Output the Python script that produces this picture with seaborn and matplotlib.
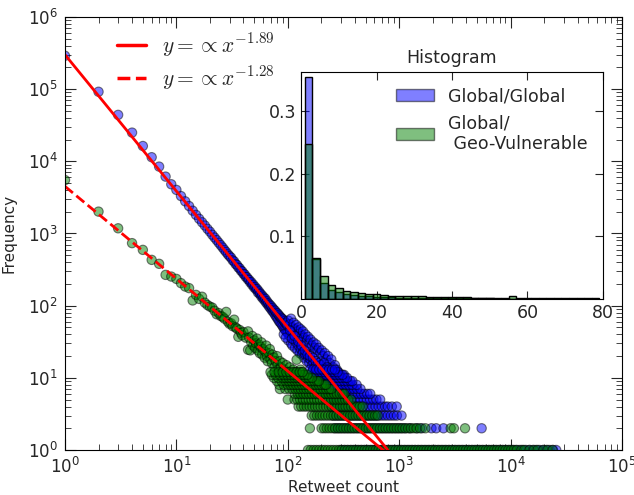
import matplotlib.pyplot as plt
from matplotlib.lines import Line2D
from matplotlib.patches import Patch
import numpy as np
import pandas as pd
import seaborn as sns

# --- scatter data: retweet count -> frequency ---
# Global/Global, points above the integer rows
blue_x = [1, 2, 3, 4, 5, 6, 7, 8, 9, 10, 11, 12, 13, 14, 15, 16, 17, 18, 19, 20,
          21, 22, 23, 24, 25, 26, 27, 28, 29, 30, 31, 32, 33, 34, 35, 36, 37, 38, 39, 40,
          41, 42, 43, 44, 45, 46, 47, 48, 49, 50, 51, 52, 53, 54, 55, 56, 57, 58, 59, 60,
          61, 62, 63, 64, 65, 66, 67, 68, 69, 70, 71, 72, 73, 74, 75, 76, 77, 78, 79, 80,
          81, 82, 83, 84, 85, 86, 87, 88, 89, 90, 91, 92, 93, 94, 95, 96, 97, 98, 99, 100,
          101, 101, 104, 104, 107, 107, 110, 110, 113, 113, 116, 116, 119, 119, 120, 122, 122,
          125, 125, 128, 128, 130, 131, 131, 134, 134, 137, 137, 140, 140, 144, 144, 148, 148,
          150, 152, 152, 156, 156, 160, 160, 165, 165, 170, 170, 170, 175, 175, 180, 180,
          185, 185, 190, 190, 196, 196, 200, 202, 208, 210, 215, 222, 230, 230, 238, 246,
          250, 255, 265, 275, 285, 300, 320,
          92, 96, 105, 109, 115, 124, 133, 142, 150, 158, 168, 178, 188, 198, 212, 226]
blue_y = [2.9e5, 9.2e4, 4.4e4, 2.5e4, 1.63e4, 1.14e4, 8450, 6140, 4810, 4020, 3300, 2790,
          2400, 2070, 1810, 1600, 1430, 1290, 1160, 1060, 960, 880, 810, 745, 690, 640, 592,
          553, 515, 485, 462, 425, 410, 378, 366, 338, 330, 305, 298, 276, 272, 250, 248, 230,
          228, 210, 212, 193, 196, 178, 182, 168, 170, 152, 158, 145, 147, 133, 138, 125, 130,
          118, 124, 110, 115, 104, 108, 97, 103, 92, 98, 86, 93, 82, 88, 77, 85, 72, 80, 68,
          78, 64, 74, 60, 71, 58, 68, 55, 66, 52, 64, 49, 61, 47, 58, 45, 57, 43, 54, 42,
          62, 33, 55, 38, 66, 30, 50, 28, 58, 34, 47, 26, 54, 31, 40, 44, 24,
          50, 28, 41, 22, 35, 47, 25, 38, 21, 44, 23, 36, 19, 40, 21, 33, 17,
          26, 37, 19, 30, 16, 34, 18, 28, 15, 31, 16, 22, 26, 14, 29, 15,
          24, 13, 26, 14, 22, 12, 17, 24, 20, 14, 22, 18, 20, 13, 16, 18,
          12, 14, 15, 13, 12, 11, 11,
          40, 36, 45, 35, 38, 32, 28, 24, 21, 20, 19, 17, 16, 15, 16, 14]
blue_f1 = [300, 322, 345, 370, 397, 425, 456, 489, 524, 562, 602, 646, 692, 742, 796, 853,
           915, 981, 1051, 1127, 1208, 1295, 1389, 1489, 1596, 1711, 1834, 1966, 2108, 2260,
           2423, 2597, 2784, 2985, 3200, 3430, 3677, 3942, 4226, 4530, 4857, 5207, 5582,
           5984, 6415, 6877, 7372, 7903, 8472, 9082, 9736, 10437, 11189, 11995, 12858,
           13784, 14777, 15841, 16981, 18204, 19515, 20920, 22426, 24041, 25700]
blue_f2 = [265, 283, 302, 323, 345, 368, 393, 420, 448, 479, 511, 546, 583, 622, 665, 710,
           758, 809, 864, 923, 985, 1052, 1130, 1250, 1450, 1600, 1950, 2150, 2500, 5500]
blue_f3 = [255, 272, 290, 309, 329, 350, 373, 397, 423, 450, 479, 510, 543, 578, 616, 656,
           698, 743, 791, 842, 897, 955, 1050]
blue_f4 = [245, 262, 280, 299, 319, 341, 364, 389, 415, 443, 473, 505, 539, 576, 615, 656,
           700, 748, 790, 860, 950]
blue_f5 = [235, 251, 268, 286, 305, 326, 348, 371, 396, 423, 451, 482, 514, 549, 586, 625, 675]
blue_f6 = [222, 237, 253, 270, 288, 308, 328, 350, 374, 399, 426, 455, 485, 518, 550]
blue_f7 = [205, 219, 233, 249, 266, 284, 303, 323, 345, 368, 393, 420, 450]
blue_f8 = [198, 211, 225, 240, 256, 273, 292, 311, 332, 355, 379, 415]
blue_f9 = [190, 203, 216, 231, 246, 263, 281, 300, 320, 341, 365, 380]
blue_f10 = [180, 192, 205, 219, 234, 250, 267, 285, 304, 325, 340]
blue_f11 = [170, 182, 195, 208, 222, 237, 253, 270, 290, 310]
blue_f12 = [165, 176, 188, 200, 214, 228, 244, 260, 280]
blue_f13 = [158, 169, 180, 192, 205, 219, 234, 250, 265]

# Global/Geo-Vulnerable
green_x = [1, 2, 3, 4, 5, 6, 7, 8, 9, 10, 11, 12, 13, 14, 15, 16, 17, 18, 19, 20,
           21, 22, 23, 24, 25, 26, 27, 28, 29, 30, 31, 32, 33, 34, 35, 36, 37, 38, 39, 40,
           42, 44, 44, 45, 46, 47, 48, 49, 50, 51, 52, 53, 54, 55, 56, 57, 58, 59, 60,
           62, 63, 64, 65, 66, 68, 69, 70, 72, 73, 75, 76, 78, 80, 81, 83, 85, 87, 89, 90,
           93, 95, 97, 100, 104, 108, 112, 116, 120, 125, 130, 133, 140]
green_y = [5500, 2010, 1180, 735, 593, 431, 380, 267, 253, 235, 205, 184, 175, 118, 141, 124,
           133, 110, 102, 97, 94, 85, 76, 79, 72, 70, 66, 82, 60, 56, 57, 52, 64, 50, 48, 37,
           46, 42, 39, 43, 36, 44, 24.5, 36, 24, 31, 38, 28, 33, 26, 30, 35, 24, 29, 22, 27,
           31, 21, 25, 19, 23, 28, 20, 17, 22, 25, 18, 16, 21, 19, 14, 17, 20, 15, 13, 17,
           14, 12, 16, 13, 11, 15, 12, 14, 11, 13, 12, 17.8, 11, 13, 12, 11]
green_f1 = [152, 161, 171, 181, 192, 204, 216, 229, 243, 257, 273, 289, 306, 325, 344, 365,
            387, 410, 435, 461, 488, 518, 549, 582, 617, 654, 693, 735, 779, 825, 875, 927,
            983, 1042, 1104, 1171, 1241, 1315, 1394, 1478, 1567, 1661, 1760, 1866, 1978,
            2097, 2222, 2356, 2497, 2647, 2806, 2974, 3152, 3341, 3542, 3754, 3980, 4218,
            4472, 4740, 5025, 5326, 5646, 5985, 6344, 6724, 7128, 7555, 8009, 8489, 8999,
            9539, 10111, 10718, 11400, 12500, 13300, 14800, 16200, 17500, 19800, 21500, 23800]
green_f2 = [158, 201, 212, 224, 237, 251, 266, 282, 298, 316, 335, 355, 376, 398, 422, 447,
            474, 502, 532, 564, 598, 634, 672, 712, 755, 800, 848, 899, 953, 1010, 1070, 1135,
            1203, 1275, 1350, 1430, 1540, 1720, 2900, 3100, 3900]
green_f3 = [164, 173, 183, 194, 205, 217, 230, 244, 258, 273, 289, 306, 324, 343, 363, 384,
            407, 431, 456, 483, 511, 541, 573, 607, 640]
green_f4 = [125, 132, 140, 148, 157, 166, 176, 186, 197, 209, 221, 234, 248, 263, 278, 295,
            312, 330, 350, 371, 393, 416, 441, 470]
green_f5 = [100, 115, 122, 129, 137, 145, 154, 163, 173, 183, 194, 206, 218, 231, 245, 260,
            275, 292, 309, 328, 347, 370]
green_f6 = [116, 123, 130, 138, 146, 155, 164, 174, 184, 195, 207, 219, 232, 246, 261, 276,
            293, 310, 322]
green_f7 = [85, 95, 103, 110, 117, 124, 131, 139, 147, 156, 165, 175, 186, 197, 209, 221, 234, 245]
green_f8 = [84, 92, 100, 106, 112, 119, 126, 134, 142, 150, 159, 169, 179, 190, 201, 213, 220]
green_f9 = [80, 88, 96, 102, 108, 115, 122, 129, 137, 145, 154, 163, 173, 183, 190]
green_f10 = [75, 82, 90, 96, 102, 108, 115, 122, 129, 137, 145, 154, 165]
green_f11 = [72, 78, 85, 92, 99, 106, 114, 122, 131, 140, 150]
green_f12 = [70, 76, 83, 90, 97, 104, 112, 120, 128, 136]

# power-law fits y = a * x^k
fit_amp = [3.0e5, 4.5e3]
fit_exp = [-1.89, -1.28]

# inset histogram (bin width 2, starting at 1)
hist_edges = list(range(1, 81, 2))
hist_blue = [0.355, 0.064, 0.026, 0.0144, 0.0107, 0.0075, 0.006, 0.005, 0.004, 0.0035,
             0.003, 0.0025, 0.002, 0.002, 0.0018, 0.0016, 0.0015, 0.0014, 0.0013, 0.0012,
             0.0011, 0.001, 0.0009, 0.0008, 0.0008, 0.0007, 0.0007, 0.0006, 0.0006, 0.0006,
             0.0005, 0.0005, 0.0005, 0.0005, 0.0005, 0.0004, 0.0004, 0.0004, 0.0004]
hist_green = [0.248, 0.065, 0.037, 0.0224, 0.017, 0.0133, 0.011, 0.009, 0.008, 0.0075,
              0.007, 0.0055, 0.005, 0.005, 0.0045, 0.004, 0.0035, 0.0035, 0.003, 0.003,
              0.003, 0.003, 0.0015, 0.0012, 0.001, 0.001, 0.001, 0.004, 0.001, 0.001,
              0.0009, 0.0009, 0.0009, 0.0008, 0.0008, 0.0008, 0.0008, 0.0008, 0.0008]


def collect(px, py, rows, name):
    xs, ys = list(px), list(py)
    for f, xl in enumerate(rows, start=1):
        xs += xl
        ys += [f] * len(xl)
    return pd.DataFrame({"x": xs, "y": ys, "set": name})


blue_rows = [blue_f1, blue_f2, blue_f3, blue_f4, blue_f5, blue_f6, blue_f7, blue_f8,
             blue_f9, blue_f10, blue_f11, blue_f12, blue_f13]
green_rows = [green_f1, green_f2, green_f3, green_f4, green_f5, green_f6, green_f7,
              green_f8, green_f9, green_f10, green_f11, green_f12]
df = pd.concat([collect(blue_x, blue_y, blue_rows, "gg"),
                collect(green_x, green_y, green_rows, "gv")], ignore_index=True)

sns.set_style("white", {
    "xtick.direction": "in", "ytick.direction": "in",
    "xtick.top": True, "ytick.right": True,
    "xtick.bottom": True, "ytick.left": True,
    "axes.edgecolor": "black", "axes.linewidth": 1.0,
})
plt.rcParams["font.family"] = ["DejaVu Sans"]
plt.rcParams["mathtext.fontset"] = "cm"
plt.rcParams.update({
    "xtick.major.size": 8, "ytick.major.size": 8,
    "xtick.minor.size": 4, "ytick.minor.size": 4,
    "xtick.minor.visible": True, "ytick.minor.visible": True,
})

fig = plt.figure(figsize=(6.34, 4.95), dpi=100)
ax = fig.add_axes([0.1025, 0.0909, 0.8785, 0.8748])

sns.scatterplot(data=df, x="x", y="y", hue="set", palette={"gg": "b", "gv": "g"},
                s=45, alpha=0.5, edgecolor="black", linewidth=0.8, legend=False, ax=ax)

fx = np.array([1.0, 1000.0])
sns.lineplot(x=fx, y=fit_amp[0] * fx ** fit_exp[0], color="red", lw=2, ax=ax)
fx1 = np.array([1.0, 90.0])
fx2 = np.array([90.0, 1000.0])
sns.lineplot(x=fx1, y=fit_amp[1] * fx1 ** fit_exp[1], color="red", lw=2, linestyle="--", ax=ax)
sns.lineplot(x=fx2, y=fit_amp[1] * fx2 ** fit_exp[1], color="red", lw=2, ax=ax)

ax.set_xscale("log")
ax.set_yscale("log")
ax.set_xlim(1, 1e5)
ax.set_ylim(1, 1e6)
ax.set_xlabel("Retweet count", fontsize=11, labelpad=2)
ax.set_ylabel("Frequency", fontsize=11, labelpad=8)
ax.tick_params(labelsize=12, pad=5)

handles = [Line2D([], [], color="red", lw=2.5),
           Line2D([], [], color="red", lw=2.5, linestyle="--")]
labels = [r"$y=\propto x^{%.2f}$" % fit_exp[0], r"$y=\propto x^{%.2f}$" % fit_exp[1]]
ax.legend(handles, labels, loc="upper left", bbox_to_anchor=(0.058, 1.012), frameon=False,
          fontsize=15.5, handlelength=1.35, handletextpad=0.75, labelspacing=0.25)

# inset histogram
axin = fig.add_axes([0.475, 0.396, 0.476, 0.459])
centers = [e + 1 for e in hist_edges[:-1]]
sns.histplot(x=centers, weights=hist_blue[:len(centers)], bins=hist_edges, color="b",
             alpha=0.5, edgecolor="black", linewidth=1, ax=axin)
sns.histplot(x=centers, weights=hist_green[:len(centers)], bins=hist_edges, color="g",
             alpha=0.5, edgecolor="black", linewidth=1, ax=axin)
axin.set_xlim(0, 80)
axin.set_ylim(0, 0.363)
axin.set_xticks([0, 20, 40, 60, 80])
axin.set_yticks([0.1, 0.2, 0.3])
axin.minorticks_off()
axin.set_xlabel("")
axin.set_ylabel("")
axin.tick_params(labelsize=12.5, length=6)
axin.set_title("Histogram", fontsize=12.5)
axin.legend([Patch(facecolor="b", alpha=0.5, edgecolor="black"),
             Patch(facecolor="g", alpha=0.5, edgecolor="black")],
            ["Global/Global", "Global/\n Geo-Vulnerable"],
            loc="upper right", frameon=False, fontsize=12.5, handlelength=2.2)

fig.savefig("out.png", dpi=100)
